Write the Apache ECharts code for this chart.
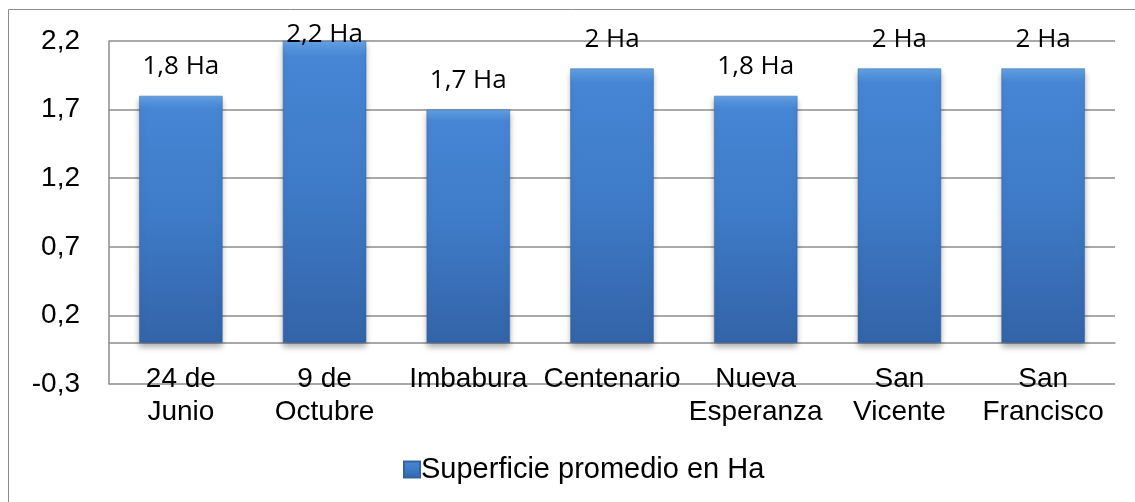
<!DOCTYPE html>
<html>
<head>
<meta charset="utf-8">
<script src="https://cdn.jsdelivr.net/npm/echarts@6/dist/echarts.min.js"></script>
<style>
  html, body { margin: 0; padding: 0; background: #fff; }
  #chart { width: 1135px; height: 502px; }
</style>
</head>
<body>
<div id="chart"></div>
<script>
// datos del gráfico
const categories = ['24 de\nJunio', '9 de\nOctubre', 'Imbabura', 'Centenario', 'Nueva\nEsperanza', 'San\nVicente', 'San\nFrancisco']
const superficie = [1.8, 2.2, 1.7, 2.0, 1.8, 2.0, 2.0]
const seriesName = 'Superficie promedio en Ha'
const yMin = -0.3
const yMax = 2.2
const yStep = 0.5

const chart = echarts.init(document.getElementById('chart'))

const fmt = v => {
    const s = Math.round(v * 10) / 10
    return Number.isInteger(s) ? String(s) : s.toFixed(1).replace('.', ',')
}

const barColor = {
    type: 'linear', x: 0, y: 0, x2: 0, y2: 1,
    colorStops: [
        {offset: 0, color: '#64a3e6'},
        {offset: 0.05, color: '#4686d4'},
        {offset: 0.5, color: '#3e7ac7'},
        {offset: 1, color: '#3364a8'}
    ]
}

// la etiqueta del valor máximo queda dentro del área (como en Excel)
const barData = superficie.map(v => v >= yMax ? {value: v, label: {distance: -7}} : v)

const option = {
    animation: false,
    graphic: [{
        type: 'rect',
        shape: {x: 8.5, y: 9.5, width: 1200, height: 600},
        style: {fill: 'none', stroke: '#8c8c8c', lineWidth: 1},
        silent: true
    }],
    grid: {left: 109, top: 41, right: 20, bottom: 118},
    legend: {
        data: [seriesName],
        left: 398,
        top: 450,
        itemWidth: 16,
        itemHeight: 16,
        itemGap: 4,
        icon: 'rect',
        textStyle: {fontFamily: 'Liberation Sans', fontSize: 29, color: '#000', padding: [0, 0, 0, -4]}
    },
    xAxis: {
        type: 'category',
        data: categories,
        axisLine: {onZero: true, lineStyle: {color: '#8c8c8c', width: 1.5}},
        axisTick: {show: false},
        axisLabel: {
            interval: 0,
            margin: -21,
            fontFamily: 'Liberation Sans',
            fontSize: 28,
            lineHeight: 33,
            color: '#000'
        }
    },
    yAxis: {
        type: 'value',
        min: yMin,
        max: yMax,
        interval: yStep,
        axisLine: {show: true, lineStyle: {color: '#8c8c8c', width: 1.5}},
        axisTick: {show: false},
        axisLabel: {
            formatter: fmt,
            margin: 29,
            fontFamily: 'Liberation Sans',
            fontSize: 28,
            color: '#000'
        },
        splitLine: {lineStyle: {color: '#8c8c8c', width: 1.5}}
    },
    series: [{
        name: seriesName,
        type: 'bar',
        data: barData,
        barWidth: '58%',
        itemStyle: {
            color: barColor,
            borderColor: '#33649f',
            borderWidth: 0.5,
            shadowBlur: 6,
            shadowOffsetY: 4,
            shadowColor: 'rgba(0,0,0,0.3)'
        },
        label: {
            show: true,
            position: 'top',
            distance: 16,
            formatter: p => fmt(p.value) + ' Ha',
            fontFamily: 'Open Sans',
            fontSize: 26,
            color: '#000'
        }
    }]
}

chart.setOption(option)
</script>
</body>
</html>
